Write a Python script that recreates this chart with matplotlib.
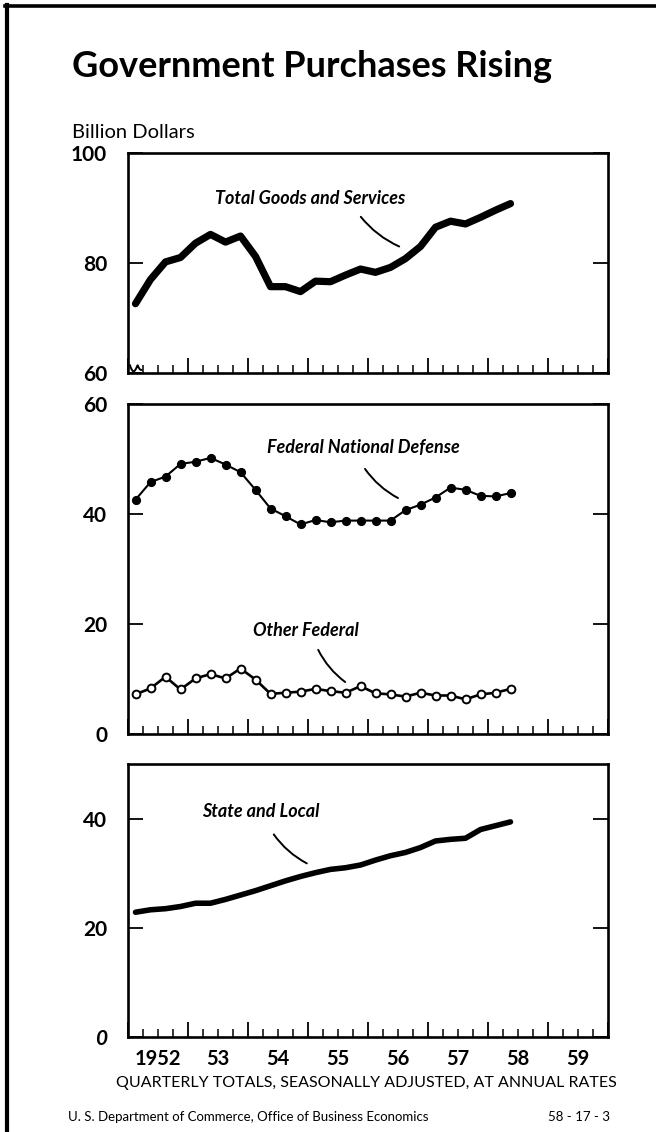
import matplotlib
matplotlib.use("Agg")
import matplotlib.pyplot as plt
from matplotlib.lines import Line2D
import numpy as np

# ---------------- data ----------------
years = list(range(1952, 1959))
quarters = [f"{y}Q{q}" for y in years for q in range(1, 5)][:26]   # 1952Q1 .. 1958Q2

total = [72.6, 77.0, 80.2, 81.0, 83.6, 85.2, 83.8, 84.9, 81.2, 75.7, 75.7, 74.8, 76.7,
         76.6, 77.8, 78.9, 78.3, 79.2, 80.8, 83.0, 86.5, 87.6, 87.1, 88.3, 89.6, 90.8]
defense = [42.6, 45.8, 46.8, 49.1, 49.5, 50.2, 49.0, 47.6, 44.4, 41.0, 39.6, 38.1, 38.9,
           38.5, 38.8, 38.8, 38.8, 38.8, 40.7, 41.7, 43.0, 44.8, 44.4, 43.3, 43.2, 43.8]
other = [7.2, 8.3, 10.4, 8.1, 10.1, 10.9, 10.1, 11.9, 9.9, 7.3, 7.5, 7.7, 8.2,
         7.8, 7.5, 8.7, 7.4, 7.2, 6.8, 7.5, 7.0, 7.0, 6.3, 7.2, 7.5, 8.2]
state = [22.85, 23.3, 23.5, 23.9, 24.5, 24.5, 25.2, 26.0, 26.8, 27.7, 28.6, 29.4, 30.1,
         30.7, 31.0, 31.5, 32.4, 33.2, 33.8, 34.7, 35.9, 36.2, 36.4, 38.0, 38.7, 39.4]

year_labels = ["1952", "53", "54", "55", "56", "57", "58", "59"]
top_ticks = [60, 80, 100]
mid_ticks = [0, 20, 40, 60]
bot_ticks = [0, 20, 40]

# quarter string -> mid-quarter position on a year axis
x = np.array([int(s[:4]) + (int(s[5]) - 0.5) / 4 for s in quarters])

FONT = "Lato"
plt.rcParams["font.family"] = [FONT, "DejaVu Sans"]

W, H = 656, 1132
fig = plt.figure(figsize=(W / 100, H / 100), dpi=100)
fig.patch.set_facecolor("white")


def px_axes(left, top, right, bottom):
    return fig.add_axes([left / W, 1 - bottom / H, (right - left) / W, (bottom - top) / H])


ax1 = px_axes(128, 153, 608, 373)
ax2 = px_axes(128, 404, 608, 734)
ax3 = px_axes(128, 764, 608, 1037)

for ax, lim, ticks in [(ax1, (60, 100), top_ticks), (ax2, (0, 60), mid_ticks), (ax3, (0, 50), bot_ticks)]:
    ax.set_xlim(1952, 1960)
    ax.set_ylim(*lim)
    for sp in ax.spines.values():
        sp.set_linewidth(1.9)
    ax.set_xticks(np.arange(1952, 1961))
    ax.set_xticks(np.arange(1952, 1960.01, 0.25), minor=True)
    ax.tick_params(axis="x", which="major", direction="in", length=10.5, width=1.3,
                   labelbottom=False, bottom=True, top=False)
    ax.tick_params(axis="x", which="minor", direction="in", length=5.5, width=1.1,
                   bottom=True, top=False)
    ax.set_yticks(ticks)
    ax.tick_params(axis="y", which="major", direction="in", length=11, width=1.3,
                   left=True, right=True, pad=15, labelsize=15)
    ax.yaxis.set_minor_locator(matplotlib.ticker.NullLocator())
    for lab in ax.get_yticklabels():
        lab.set_fontweight("bold")

# italic zero on the bottom panel
for lab in ax3.get_yticklabels():
    if lab.get_text() == "0":
        lab.set_fontstyle("italic")

# ---------------- series ----------------
ax1.plot(x, total, color="black", lw=5.2, solid_capstyle="round", solid_joinstyle="round")
ax2.plot(x, defense, color="black", lw=1.5, marker="o", markersize=5.6,
         markerfacecolor="black", markeredgecolor="black")
ax2.plot(x, other, color="black", lw=1.9, marker="o", markersize=5.6,
         markerfacecolor="white", markeredgecolor="black", markeredgewidth=1.4)
ax3.plot(x, state, color="black", lw=4.0, solid_capstyle="round", solid_joinstyle="round")

# ---------------- labels & leaders ----------------
lab_kw = dict(fontsize=13, fontweight="bold", fontstyle="italic", ha="center", va="center")


def leader(ax, p0, p1, rad=0.12):
    ax.annotate("", xy=p1, xytext=p0,
                arrowprops=dict(arrowstyle="-", lw=1.4, color="black",
                                connectionstyle=f"arc3,rad={rad}", shrinkA=0, shrinkB=0))


ax1.text(1955.03, 91.8, "Total Goods and Services", **lab_kw)
leader(ax1, (1955.88, 88.4), (1956.52, 83.0))
ax2.text(1955.93, 52.05, "Federal National Defense", **lab_kw)
leader(ax2, (1955.95, 48.2), (1956.5, 42.9))
ax2.text(1954.97, 18.9, "Other Federal", **lab_kw)
leader(ax2, (1955.17, 15.3), (1955.62, 9.45))
ax3.text(1954.22, 41.3, "State and Local", **lab_kw)
leader(ax3, (1954.43, 37.1), (1954.98, 31.8))

# axis break squiggle at the bottom-left of the top panel
t = np.linspace(0, 1, 40)
sx = 0.004 + 0.024 * t
sy = 0.035 - 0.03 * np.abs(np.sin(np.pi * 1.5 * t)) * (1 - 0.3 * t)
ax1.plot(sx, sy, transform=ax1.transAxes, color="black", lw=1.4, clip_on=False)

# year labels under bottom panel
for i, lab in enumerate(year_labels):
    ax3.text(1952 + i + 0.5, -0.08, lab, transform=ax3.get_xaxis_transform(),
             ha="center", va="center", fontsize=14.5, fontweight="bold")

# ---------------- figure texts ----------------
fig.text(72 / W, 1 - 77 / H, "Government Purchases Rising", fontsize=26,
         fontweight="bold", ha="left", va="baseline")
fig.text(72 / W, 1 - 138 / H, "Billion Dollars", fontsize=14.5, ha="left", va="baseline")
fig.text(366 / W, 1 - 1083 / H, "QUARTERLY TOTALS, SEASONALLY ADJUSTED, AT ANNUAL RATES",
         fontsize=11.5, ha="center", va="center")
fig.text(68 / W, 1 - 1117 / H, "U. S. Department of Commerce, Office of Business Economics",
         fontsize=9.5, ha="left", va="center")
fig.text(610 / W, 1 - 1117 / H, "58 - 17 - 3", fontsize=9.5, ha="right", va="center")

# outer frame (top and left)
fig.add_artist(Line2D([5 / W, 1.0], [1 - 6 / H, 1 - 6 / H], transform=fig.transFigure,
                      color="black", lw=2.6))
fig.add_artist(Line2D([7 / W, 7 / W], [1 - 5 / H, 0.0], transform=fig.transFigure,
                      color="black", lw=3.0))

fig.savefig("out.png", dpi=100)
